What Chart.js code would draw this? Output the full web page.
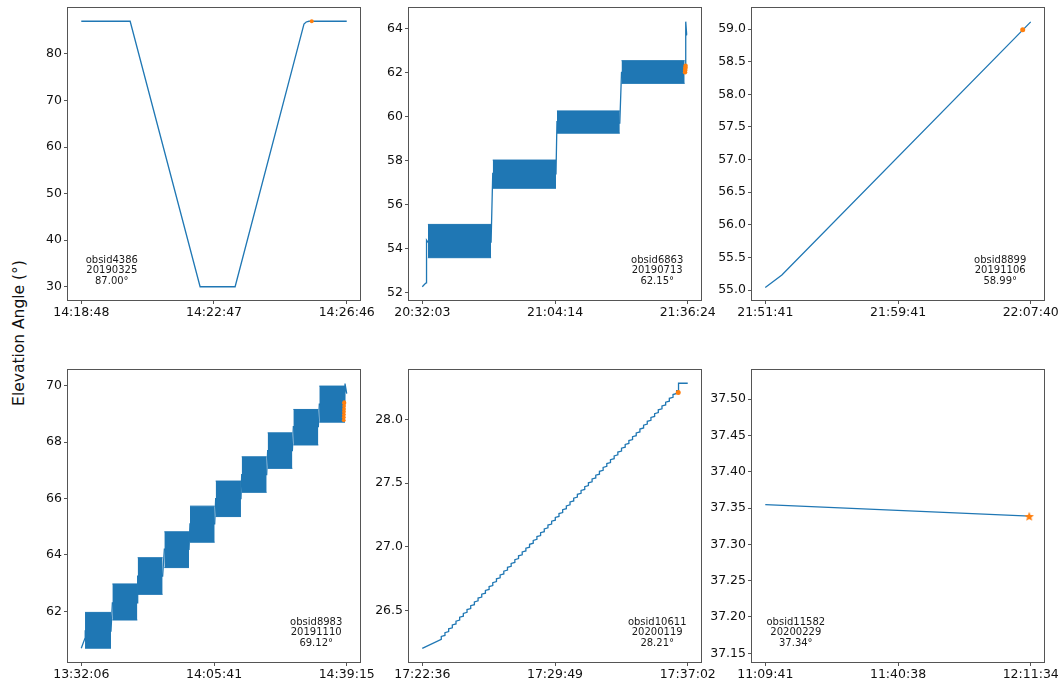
<!DOCTYPE html>
<html>
<head>
<meta charset="utf-8">
<script src="https://cdn.jsdelivr.net/npm/chart.js@4.4.1/dist/chart.umd.min.js"></script>
<style>
  html, body { margin: 0; padding: 0; background: #fff; }
  body { width: 1061px; height: 684px; position: relative; overflow: hidden; font-family: "DejaVu Sans", sans-serif; }
  .panel { position: absolute; }
  #ylabel { position: absolute; left: 19px; top: 333px; transform: translate(-50%, -50%) rotate(-90deg);
            font-size: 15.5px; white-space: nowrap; color: #111; }
</style>
</head>
<body>
<div id="ylabel">Elevation Angle (°)</div>
<div class="panel" id="w1"><canvas id="c1"></canvas></div>
<div class="panel" id="w2"><canvas id="c2"></canvas></div>
<div class="panel" id="w3"><canvas id="c3"></canvas></div>
<div class="panel" id="w4"><canvas id="c4"></canvas></div>
<div class="panel" id="w5"><canvas id="c5"></canvas></div>
<div class="panel" id="w6"><canvas id="c6"></canvas></div>
<script>
// ---------- observation 4386 (2019-03-25) ----------
const p1TimeTicks = ['14:18:48', '14:22:47', '14:26:46'];
const p1DegTicks  = ['30', '40', '50', '60', '70', '80'];
const p1Range     = [27.15, 89.85];
const p1Sec  = [0, 88, 214, 277, 401, 405, 410, 478];
const p1Deg  = [87.0, 87.0, 30.0, 30.0, 86.4, 86.85, 87.0, 87.0];
const p1MarkSec = [415];
const p1MarkDeg = [87.00];
const p1Note = ['obsid4386', '20190325', '87.00°'];

// ---------- observation 6863 (2019-07-13) ----------
const p2TimeTicks = ['20:32:03', '21:04:14', '21:36:24'];
const p2DegTicks  = ['52', '54', '56', '58', '60', '62', '64'];
const p2Range     = [51.67, 64.92];
const p2Sec  = [0, 48, 60, 62, 82, 1001, 1025, 1945, 1959, 2873, 2898, 3817, 3825, 3832, 3846, 3852];
const p2Deg  = [52.27, 52.43, 52.45, 54.39, 54.30, 54.30, 57.42, 57.40, 59.76, 59.70, 62.00, 62.00, 62.10, 64.30, 63.70, 63.70];
const p2BandStart = [82, 1025, 1959, 2898];
const p2BandEnd   = [1001, 1945, 2873, 3817];
const p2BandLow   = [53.59, 56.74, 59.24, 61.50];
const p2BandHigh  = [55.10, 58.02, 60.25, 62.53];
const p2MarkSec = [3822, 3824, 3826, 3828, 3830];
const p2MarkDeg = [62.00, 62.08, 62.15, 62.22, 62.30];
const p2Note = ['obsid6863', '20190713', '62.15°'];

// ---------- observation 8899 (2019-11-06) ----------
const p3TimeTicks = ['21:51:41', '21:59:41', '22:07:40'];
const p3DegTicks  = ['55.0', '55.5', '56.0', '56.5', '57.0', '57.5', '58.0', '58.5', '59.0'];
const p3Range     = [54.847, 59.322];
const p3Sec  = [0, 60, 959];
const p3Deg  = [55.04, 55.23, 59.11];
const p3MarkSec = [930];
const p3MarkDeg = [58.99];
const p3Note = ['obsid8899', '20191106', '58.99°'];

// ---------- observation 8983 (2019-11-10) ----------
const p4TimeTicks = ['13:32:06', '14:05:41', '14:39:15'];
const p4DegTicks  = ['62', '64', '66', '68', '70'];
const p4Range     = [60.20, 70.56];
const p4Sec  = [0, 57, 60, 451, 472, 851, 856, 1235, 1261, 1635, 1650, 2025, 2040, 2424, 2435, 2814, 2829, 3204, 3219, 3598, 3613, 4000, 4003, 4029];
const p4Deg  = [60.69, 61.05, 61.30, 61.30, 62.30, 62.30, 63.25, 63.25, 64.20, 64.20, 65.10, 65.10, 66.00, 66.00, 66.85, 66.85, 67.70, 67.70, 68.55, 68.55, 69.35, 69.35, 70.08, 69.72];
const p4BandStart = [57, 472, 856, 1261, 1650, 2040, 2435, 2829, 3219, 3613];
const p4BandEnd   = [451, 851, 1235, 1635, 2025, 2424, 2814, 3204, 3598, 4003];
const p4BandLow   = [60.69, 61.69, 62.60, 63.55, 64.45, 65.36, 66.22, 67.07, 67.90, 68.71];
const p4BandHigh  = [61.96, 62.97, 63.90, 64.82, 65.73, 66.62, 67.48, 68.33, 69.16, 69.99];
const p4MarkSec = [3984, 3985, 3986, 3987, 3988, 3989, 3990, 3991];
const p4MarkDeg = [68.78, 68.88, 68.98, 69.08, 69.18, 69.28, 69.38, 69.42];
const p4Note = ['obsid8983', '20191110', '69.12°'];

// ---------- observation 10611 (2020-01-19) ----------
const p5TimeTicks = ['17:22:36', '17:29:49', '17:37:02'];
const p5DegTicks  = ['26.5', '27.0', '27.5', '28.0'];
const p5Range     = [26.098, 28.386];
const p5HeadSec = [0];
const p5HeadDeg = [26.205];
const p5StepSec  = [62,74,86,98,110,122,134,146,158,170,182,194,206,218,230,242,254,266,278,290,302,314,326,338,350,362,374,386,398,410,422,434,446,458,470,482,494,506,518,530,542,554,566,578,590,602,614,626,638,650,662,674,686,698,710,722,734,746,758,770,782,794,806,818,830];
const p5StepLow  = [26.276,26.306,26.336,26.366,26.396,26.427,26.457,26.487,26.517,26.547,26.577,26.607,26.637,26.667,26.697,26.728,26.758,26.788,26.818,26.848,26.878,26.908,26.938,26.968,26.998,27.029,27.059,27.089,27.119,27.149,27.179,27.209,27.239,27.269,27.299,27.330,27.360,27.390,27.420,27.450,27.480,27.510,27.540,27.570,27.600,27.631,27.661,27.691,27.721,27.751,27.781,27.811,27.841,27.871,27.901,27.932,27.962,27.992,28.022,28.052,28.082,28.112,28.142,28.172,28.202];
const p5StepHigh = [26.298,26.328,26.358,26.388,26.418,26.449,26.479,26.509,26.539,26.569,26.599,26.629,26.659,26.689,26.719,26.750,26.780,26.810,26.840,26.870,26.900,26.930,26.960,26.990,27.020,27.051,27.081,27.111,27.141,27.171,27.201,27.231,27.261,27.291,27.321,27.352,27.382,27.412,27.442,27.472,27.502,27.532,27.562,27.592,27.622,27.653,27.683,27.713,27.743,27.773,27.803,27.833,27.863,27.893,27.923,27.954,27.984,28.014,28.044,28.074,28.104,28.134,28.164,28.194,28.224];
const p5TailSec = [836, 836, 866];
const p5TailDeg = [28.226, 28.282, 28.282];
const p5MarkSec = [835];
const p5MarkDeg = [28.21];
const p5Note = ['obsid10611', '20200119', '28.21°'];

// ---------- observation 11582 (2020-02-29) ----------
const p6TimeTicks = ['11:09:41', '11:40:38', '12:11:34'];
const p6DegTicks  = ['37.15', '37.20', '37.25', '37.30', '37.35', '37.40', '37.45', '37.50'];
const p6Range     = [37.138, 37.540];
const p6Sec  = [0, 3700];
const p6Deg  = [37.3547, 37.3388];
const p6MarkSec = [3692];
const p6MarkDeg = [37.339];
const p6Note = ['obsid11582', '20200229', '37.34°'];

// ---------- drawing ----------
const BLUE = '#1f77b4';
const ORANGE = '#ff7f0e';
const PLOT = 292;          // square plot area
const Y_W = 64, X_H = 32, PAD_T = 10, PAD_R = 34;
const origins = [[68, 8], [409, 8], [752, 8], [68, 370], [409, 370], [752, 370]];

function toSec(s) { const p = s.split(':').map(Number); return p[0] * 3600 + p[1] * 60 + p[2]; }
function pts(sec, deg) { return sec.map((t, i) => ({ x: t, y: deg[i] })); }

// filled five-pointed star used as the marker glyph
function starImage(size, inner) {
  const c = document.createElement('canvas');
  c.width = c.height = size;
  const g = c.getContext('2d');
  const r = size / 2, ri = r * inner;
  g.beginPath();
  for (let i = 0; i < 10; i++) {
    const a = -Math.PI / 2 + i * Math.PI / 5;
    const rr = i % 2 ? ri : r;
    g.lineTo(r + rr * Math.cos(a), r + 0.08 * size + rr * Math.sin(a));
  }
  g.closePath();
  g.fillStyle = ORANGE;
  g.fill();
  return c;
}
const bigStar = starImage(10, 0.45);

function lineSet(data) {
  return { data, borderColor: BLUE, borderWidth: 1.3, pointRadius: 0, fill: false, tension: 0 };
}
function bandSets(st, en, lo, hi) {
  const out = [];
  st.forEach((s, i) => {
    out.push({ data: [{ x: s, y: hi[i] }, { x: en[i], y: hi[i] }], borderColor: BLUE, borderWidth: 1,
               pointRadius: 0, fill: false });
    out.push({ data: [{ x: s, y: lo[i] }, { x: en[i], y: lo[i] }], borderColor: BLUE, borderWidth: 1,
               pointRadius: 0, fill: '-1', backgroundColor: BLUE });
  });
  return out;
}
// markers get the lowest order so they are painted above the traces
function dotSet(sec, deg, r) {
  return { data: pts(sec, deg), showLine: false, pointStyle: 'circle', pointRadius: r, order: -1,
           pointBackgroundColor: ORANGE, pointBorderColor: ORANGE, pointBorderWidth: 0 };
}
function starSet(sec, deg) {
  return { data: pts(sec, deg), showLine: false, pointStyle: bigStar, pointRadius: 4, order: -1,
           pointBorderWidth: 0 };
}

// serrated trace of observation 10611
const p5Line = pts(p5HeadSec, p5HeadDeg);
p5StepSec.forEach((t, i) => { p5Line.push({ x: t, y: p5StepLow[i] }); p5Line.push({ x: t, y: p5StepHigh[i] }); });
p5Line.push(...pts(p5TailSec, p5TailDeg));

const panels = [
  { tx: p1TimeTicks, ty: p1DegTicks, yr: p1Range, note: p1Note, fx: 0.15,
    sets: [lineSet(pts(p1Sec, p1Deg)), dotSet(p1MarkSec, p1MarkDeg, 2)] },
  { tx: p2TimeTicks, ty: p2DegTicks, yr: p2Range, note: p2Note, fx: 0.85,
    sets: [...bandSets(p2BandStart, p2BandEnd, p2BandLow, p2BandHigh), lineSet(pts(p2Sec, p2Deg)),
           dotSet(p2MarkSec, p2MarkDeg, 2.2)] },
  { tx: p3TimeTicks, ty: p3DegTicks, yr: p3Range, note: p3Note, fx: 0.85,
    sets: [lineSet(pts(p3Sec, p3Deg)), dotSet(p3MarkSec, p3MarkDeg, 2.5)] },
  { tx: p4TimeTicks, ty: p4DegTicks, yr: p4Range, note: p4Note, fx: 0.85,
    sets: [...bandSets(p4BandStart, p4BandEnd, p4BandLow, p4BandHigh), lineSet(pts(p4Sec, p4Deg)),
           dotSet(p4MarkSec, p4MarkDeg, 1.9)] },
  { tx: p5TimeTicks, ty: p5DegTicks, yr: p5Range, note: p5Note, fx: 0.85,
    sets: [lineSet(p5Line), dotSet(p5MarkSec, p5MarkDeg, 2.5)] },
  { tx: p6TimeTicks, ty: p6DegTicks, yr: p6Range, note: p6Note, fx: 0.15,
    sets: [lineSet(pts(p6Sec, p6Deg)), starSet(p6MarkSec, p6MarkDeg)] }
];

const framePlugin = {
  id: 'frame',
  afterDraw(chart) {
    const a = chart.chartArea, ctx = chart.ctx;
    ctx.save();
    ctx.strokeStyle = '#555';
    ctx.lineWidth = 1;
    ctx.strokeRect(a.left - 0.5, a.top - 0.5, a.right - a.left + 1, a.bottom - a.top + 1);
    ctx.restore();
  }
};
const notePlugin = {
  id: 'note',
  afterDatasetsDraw(chart, args, opts) {
    const a = chart.chartArea, ctx = chart.ctx;
    const cx = a.left + opts.fx * (a.right - a.left);
    const cy = a.bottom - 0.1 * (a.bottom - a.top);
    ctx.save();
    ctx.font = '10px "DejaVu Sans"';
    ctx.fillStyle = '#1a1a1a';
    ctx.textAlign = 'center';
    ctx.textBaseline = 'middle';
    opts.lines.forEach((s, i) => ctx.fillText(s, cx, cy + (i - 1) * 10.8));
    ctx.restore();
  }
};

const tickFont = { family: 'DejaVu Sans', size: 12.5 };
const gridOpts = { display: true, drawOnChartArea: false, drawTicks: true, tickLength: 4, color: '#555', lineWidth: 1 };

panels.forEach((p, k) => {
  const [ox, oy] = origins[k];
  const wrap = document.getElementById('w' + (k + 1));
  const cv = document.getElementById('c' + (k + 1));
  const W = Y_W + PLOT + PAD_R, H = PAD_T + PLOT + X_H;
  wrap.style.left = (ox - Y_W) + 'px';
  wrap.style.top = (oy - PAD_T) + 'px';
  cv.width = W; cv.height = H;
  cv.style.width = W + 'px'; cv.style.height = H + 'px';

  const t0 = toSec(p.tx[0]);
  const xTicks = p.tx.map(s => toSec(s) - t0);
  const span = xTicks[xTicks.length - 1];
  const yTicks = p.ty.map(Number);

  new Chart(cv, {
    type: 'line',
    data: { datasets: p.sets },
    options: {
      responsive: false, animation: false, devicePixelRatio: 1,
      layout: { padding: { left: 0, right: PAD_R, top: PAD_T, bottom: 0 } },
      plugins: { legend: { display: false }, tooltip: { enabled: false },
                 note: { lines: p.note, fx: p.fx } },
      scales: {
        x: {
          type: 'linear', min: -0.05 * span, max: 1.05 * span,
          afterBuildTicks: s => { s.ticks = xTicks.map(v => ({ value: v })); },
          afterFit: s => { s.height = X_H; },
          ticks: { autoSkip: false, maxRotation: 0, minRotation: 0, padding: 1, color: '#111', font: tickFont,
                   callback: (v, i) => p.tx[i] },
          grid: gridOpts, border: { display: false }
        },
        y: {
          type: 'linear', min: p.yr[0], max: p.yr[1],
          afterBuildTicks: s => { s.ticks = yTicks.map(v => ({ value: v })); },
          afterFit: s => { s.width = Y_W; },
          ticks: { autoSkip: false, padding: 2, color: '#111', font: tickFont,
                   callback: (v, i) => p.ty[i] },
          grid: gridOpts, border: { display: false }
        }
      }
    },
    plugins: [framePlugin, notePlugin]
  });
});
</script>
</body>
</html>
